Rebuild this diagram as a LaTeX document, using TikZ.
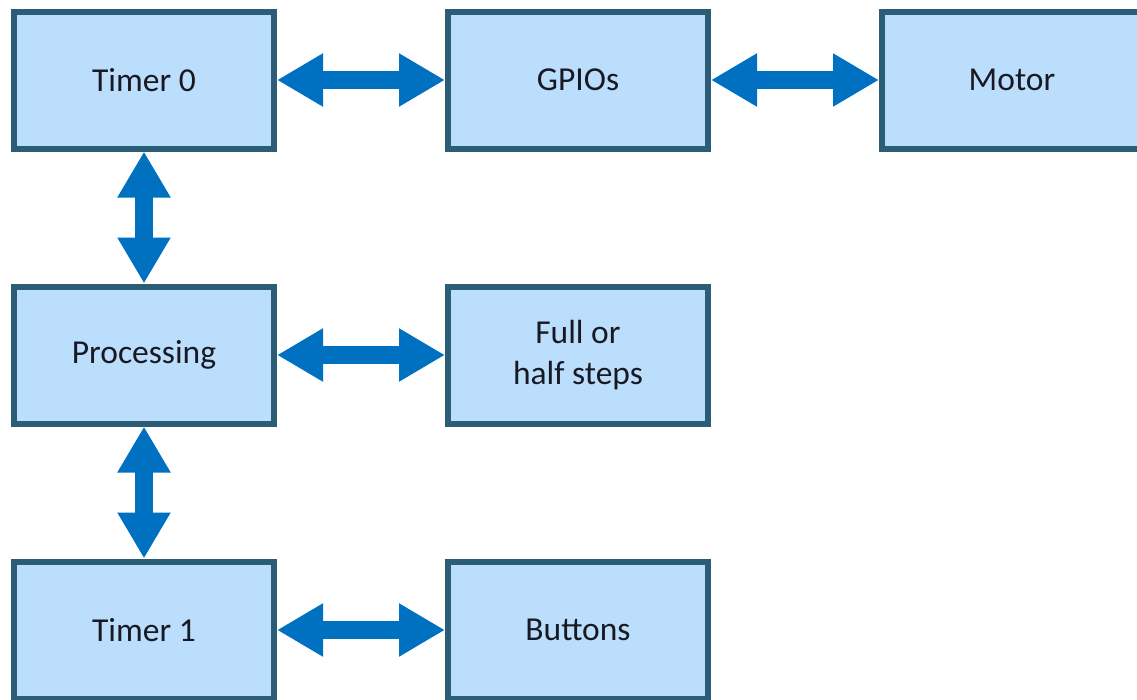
\documentclass[tikz,border=0pt]{standalone}
\usepackage{fontspec}
\setmainfont{Carlito}
\usetikzlibrary{arrows.meta}
\definecolor{boxfill}{RGB}{186,222,252}
\definecolor{boxline}{RGB}{43,94,118}
\definecolor{arrowblue}{RGB}{0,112,192}
\definecolor{txt}{RGB}{25,25,35}
\begin{document}
\begin{tikzpicture}[x=1pt,y=-1pt,
  blk/.style={draw=boxline, fill=boxfill, line width=6pt, minimum width=260pt, minimum height=137pt,
    inner sep=0pt, align=center, text=txt, font=\fontsize{33.5}{41}\selectfont},
  bigarrow/.style={draw=arrowblue, line width=18pt,
    {Triangle[length=46pt,width=50pt]}-{Triangle[length=46pt,width=50pt]}}]
\useasboundingbox (0,0) rectangle (1137,699);
\node[blk] (t0) at (144,80) {Timer 0};
\node[blk] (gp) at (578,80) {GPIOs};
\node[blk] (mo) at (1012,80) {Motor};
\node[blk] (pr) at (144,355) {Processing};
\node[blk] (fh) at (578,355) {Full or\\half steps};
\node[blk] (t1) at (144,630) {Timer 1};
\node[blk] (bu) at (578,630) {Buttons};
\draw[bigarrow] (t0.east) -- (gp.west);
\draw[bigarrow] (gp.east) -- (mo.west);
\draw[bigarrow] (pr.east) -- (fh.west);
\draw[bigarrow] (t1.east) -- (bu.west);
\draw[bigarrow] (t0.south) -- (pr.north);
\draw[bigarrow] (pr.south) -- (t1.north);
\end{tikzpicture}
\end{document}
